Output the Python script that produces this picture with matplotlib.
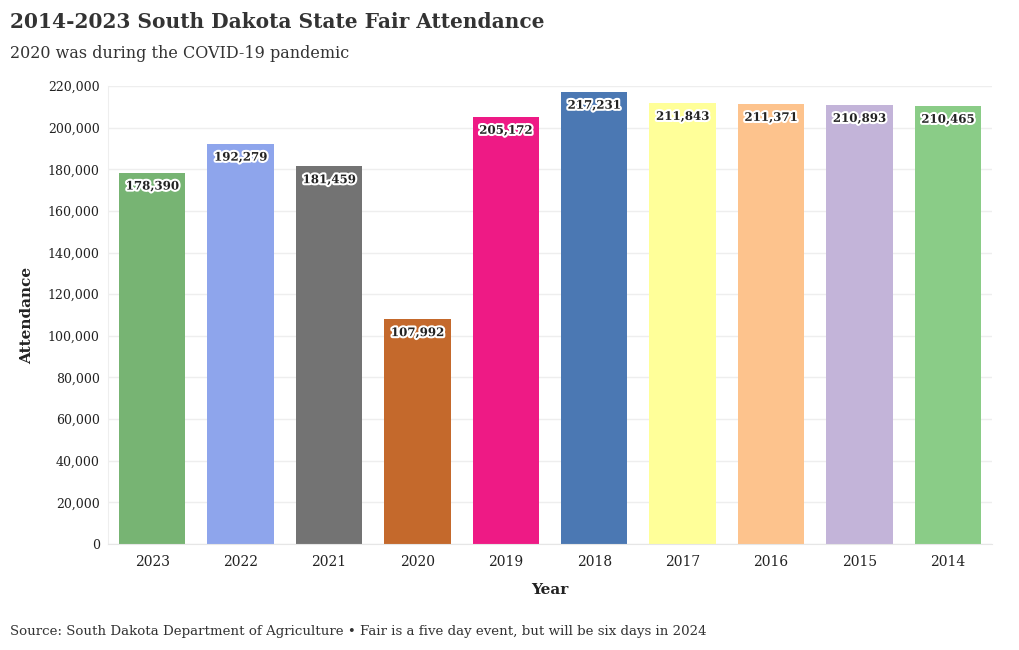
import matplotlib.pyplot as plt
import matplotlib.patheffects as pe
import numpy as np

plt.rcParams['font.family'] = ['DejaVu Serif']

years = ['2023', '2022', '2021', '2020', '2019', '2018', '2017', '2016', '2015', '2014']
attendance = [178390, 192279, 181459, 107992, 205172, 217231, 211843, 211371, 210893, 210465]
colors = ['#77b473', '#8ea5ec', '#737373', '#c4692c', '#ee1a85',
          '#4b78b3', '#ffff99', '#fdc38d', '#c3b4d9', '#8acc87']

fig = plt.figure(figsize=(10.2, 6.5), dpi=100)
ax = fig.add_axes([108 / 1020, 1 - 544 / 650, 884 / 1020, 458 / 650])

x = np.arange(len(years))
bars = ax.bar(x, attendance, width=0.75, color=colors, zorder=2)

for b, v in zip(bars, attendance):
    ax.annotate(f'{v:,}', (b.get_x() + b.get_width() / 2, v), xytext=(0, -5),
                textcoords='offset points', ha='center', va='top', fontsize=8.5,
                fontweight='bold', color='#222222',
                path_effects=[pe.withStroke(linewidth=3, foreground='white')], zorder=3)

ax.set_xlim(-0.5, len(years) - 0.5)
ax.set_ylim(0, 220000)
ax.set_yticks(np.arange(0, 220001, 20000))
ax.set_yticklabels([f'{t:,}' for t in range(0, 220001, 20000)], fontsize=9, color='#222222')
ax.set_xticks(x)
ax.set_xticklabels(years, fontsize=10, color='#222222')
ax.tick_params(axis='both', length=0, pad=6)
ax.tick_params(axis='x', pad=8)
ax.grid(axis='y', color='#eeeeee', linewidth=1, zorder=0)
for s in ['top', 'right']:
    ax.spines[s].set_visible(False)
ax.spines['left'].set_color('#eeeeee')
ax.spines['bottom'].set_color('#e6e6e6')

ax.set_ylabel('Attendance', fontsize=11, fontweight='bold', color='#222222', labelpad=10)
ax.set_xlabel('Year', fontsize=11, fontweight='bold', color='#222222', labelpad=10)

fig.text(10 / 1020, 1 - 22 / 650, '2014-2023 South Dakota State Fair Attendance',
         fontsize=14.5, fontweight='bold', color='#333333', va='center')
fig.text(10 / 1020, 1 - 54 / 650, '2020 was during the COVID-19 pandemic',
         fontsize=11.5, color='#333333', va='center')
fig.text(10 / 1020, 1 - 631 / 650,
         'Source: South Dakota Department of Agriculture \u2022 Fair is a five day event, but will be six days in 2024',
         fontsize=9.6, color='#333333', va='center')

plt.savefig('out.png')
